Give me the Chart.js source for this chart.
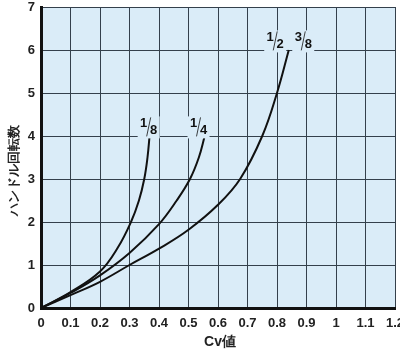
<!DOCTYPE html>
<html lang="ja">
<head>
<meta charset="UTF-8">
<title>Cv値</title>
<script src="https://cdn.jsdelivr.net/npm/chart.js@4.4.0/dist/chart.umd.min.js"></script>
<style>
    html, body { margin: 0; padding: 0; background: #fff; }
    #wrap { width: 400px; height: 353px; }
</style>
</head>
<body>
<div id="wrap"><canvas id="myChart"></canvas></div>
<script>
// ハンドル回転数 vs Cv値 (sizes 1/8, 1/4, 1/2・3/8)
var xTicks = [0, 0.1, 0.2, 0.3, 0.4, 0.5, 0.6, 0.7, 0.8, 0.9, 1, 1.1, 1.2];
var yTicks = [0, 1, 2, 3, 4, 5, 6, 7];

var cv_18    = [0, 0.1, 0.2, 0.26, 0.305, 0.332, 0.35, 0.361, 0.368];
var turns_18 = [0, 0.37, 0.85, 1.4, 2.0, 2.5, 3.0, 3.5, 4.0];

var cv_14    = [0, 0.1, 0.2, 0.3, 0.4, 0.46, 0.505, 0.535, 0.555];
var turns_14 = [0, 0.35, 0.76, 1.28, 1.95, 2.5, 3.0, 3.5, 4.0];

var cv_12    = [0, 0.1, 0.2, 0.3, 0.4, 0.5, 0.6, 0.675, 0.75, 0.8, 0.84];
var turns_12 = [0, 0.3, 0.61, 1.0, 1.38, 1.82, 2.4, 3.0, 4.0, 5.0, 6.0];

// curve labels: [numerator, denominator, x, y]
var curveLabels = [
    ['1', '8', 0.365, 4.2],
    ['1', '4', 0.534, 4.2],
    ['1', '2', 0.794, 6.2],
    ['3', '8', 0.889, 6.2]
];

function f_points(xs, ys){
    var v_pts = [];
    for(var i=0; i<xs.length; i++){
        v_pts.push({x: xs[i], y: ys[i]});
    }
    return v_pts;
}

var FONT = "'Liberation Sans Narrow', 'Liberation Sans', Arial, sans-serif";
var GRID = '#34404c';

// light blue plot background
var bgPlugin = {
    id: 'bgPlugin',
    beforeDraw: function(chart){
        var a = chart.chartArea, c = chart.ctx;
        c.save();
        c.fillStyle = '#daecf8';
        c.fillRect(a.left, a.top, a.right - a.left, a.bottom - a.top);
        c.restore();
    }
};

// fraction labels + axis titles
var textPlugin = {
    id: 'textPlugin',
    afterDraw: function(chart){
        var c = chart.ctx;
        var sx = chart.scales.x, sy = chart.scales.y;
        c.save();
        curveLabels.forEach(function(l){
            var px = sx.getPixelForValue(l[2]);
            var py = sy.getPixelForValue(l[3]);
            c.fillStyle = '#daecf8';
            c.fillRect(px - 11, py - 11, 22, 22);
            c.fillStyle = '#111';
            c.font = 'bold 13px ' + FONT;
            c.textAlign = 'center';
            c.textBaseline = 'middle';
            c.fillText(l[0], px - 5, py - 4);
            c.fillText(l[1], px + 5, py + 3);
            c.strokeStyle = '#111';
            c.lineWidth = 0.8;
            c.beginPath();
            c.moveTo(px + 2, py - 10);
            c.lineTo(px - 2, py + 9);
            c.stroke();
        });
        // y title
        c.fillStyle = '#222';
        c.font = 'bold 13px ' + FONT;
        c.textAlign = 'center';
        c.textBaseline = 'middle';
        c.translate(14, 170);
        c.rotate(-Math.PI / 2);
        c.fillText('ハンドル回転数', 0, 0);
        c.restore();
        // x title
        c.save();
        c.fillStyle = '#222';
        c.font = 'bold 14px ' + FONT;
        c.textAlign = 'center';
        c.textBaseline = 'middle';
        c.fillText('Cv値', 220, 342);
        c.restore();
    }
};

function f_ds(xs, ys){
    return {
        data: f_points(xs, ys),
        borderColor: '#111',
        borderWidth: 2,
        pointRadius: 0,
        fill: false,
        tension: 0.4
    };
}

const ctx = document.getElementById('myChart').getContext('2d');
const myChart = new Chart(ctx, {
    type: 'line',
    data: {
        datasets: [
            f_ds(cv_18, turns_18),
            f_ds(cv_14, turns_14),
            f_ds(cv_12, turns_12)
        ]
    },
    options: {
        responsive: true,
        maintainAspectRatio: false,
        animation: false,
        layout: { padding: { top: 7, right: 5, left: 0, bottom: 0 } },
        plugins: {
            legend: { display: false },
            tooltip: { enabled: false }
        },
        scales: {
            x: {
                type: 'linear',
                min: 0,
                max: 1.2,
                afterBuildTicks: function(s){
                    s.ticks = xTicks.map(function(v){ return {value: v}; });
                },
                ticks: {
                    autoSkip: false,
                    maxRotation: 0,
                    padding: 8,
                    color: '#222',
                    font: { family: FONT, size: 13, weight: 'bold' },
                    callback: function(v, i){ return String(xTicks[i]); }
                },
                grid: { color: GRID, lineWidth: 1, drawTicks: false },
                border: { display: true, color: '#111', width: 3 },
                afterFit: function(s){ s.height = 45; s.paddingRight = 0; s.paddingLeft = 0; }
            },
            y: {
                type: 'linear',
                min: 0,
                max: 7,
                afterBuildTicks: function(s){
                    s.ticks = yTicks.map(function(v){ return {value: v}; });
                },
                ticks: {
                    padding: 6,
                    color: '#222',
                    font: { family: FONT, size: 13, weight: 'bold' },
                    callback: function(v, i){ return String(yTicks[i]); }
                },
                grid: { color: GRID, lineWidth: 1, drawTicks: false },
                border: { display: true, color: '#111', width: 3 },
                afterFit: function(s){ s.width = 41; s.paddingTop = 0; s.paddingBottom = 0; }
            }
        }
    },
    plugins: [bgPlugin, textPlugin]
});
</script>
</body>
</html>
